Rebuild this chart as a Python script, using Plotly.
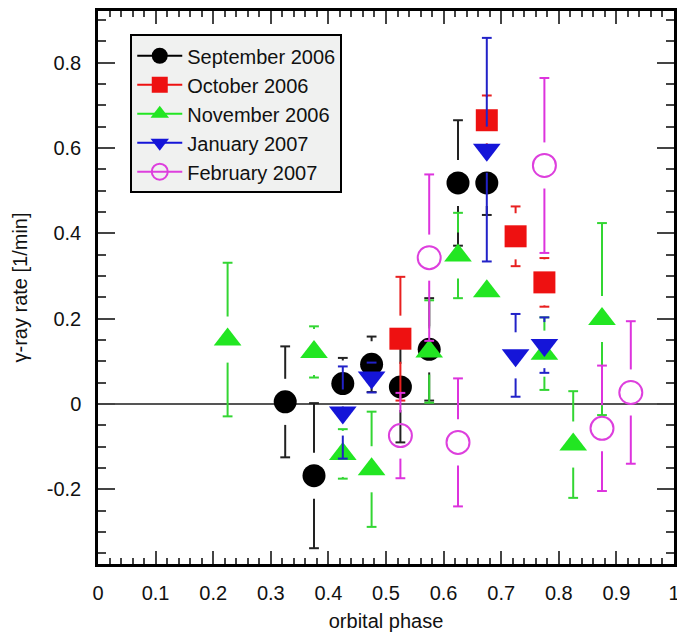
import plotly.graph_objects as go

# ---------------- data ----------------
sep_phase = [0.325, 0.375, 0.425, 0.475, 0.525, 0.575, 0.625, 0.675]
sep_rate = [0.005, -0.168, 0.048, 0.093, 0.040, 0.128, 0.518, 0.518]
sep_err = [0.13, 0.17, 0.06, 0.065, 0.13, 0.12, 0.147, 0.075]

oct_phase = [0.525, 0.675, 0.725, 0.775]
oct_rate = [0.153, 0.665, 0.393, 0.285]
oct_err = [0.145, 0.058, 0.07, 0.057]

nov_phase = [0.225, 0.375, 0.425, 0.475, 0.575, 0.625, 0.675, 0.775, 0.825, 0.875]
nov_rate = [0.151, 0.122, -0.117, -0.153, 0.123, 0.348, 0.264, 0.118, -0.095, 0.199]
nov_err = [0.18, 0.06, 0.058, 0.135, 0.12, 0.1, None, 0.085, 0.125, 0.225]

jan_phase = [0.425, 0.475, 0.675, 0.725, 0.775]
jan_rate = [-0.02, 0.062, 0.596, 0.114, 0.138]
jan_err = [0.108, 0.035, 0.262, 0.097, 0.065]

feb_phase = [0.525, 0.575, 0.625, 0.775, 0.875, 0.925]
feb_rate = [-0.074, 0.343, -0.09, 0.559, -0.057, 0.027]
feb_err = [0.10, 0.195, 0.15, 0.205, 0.147, 0.167]

x_ticks = [0, 0.1, 0.2, 0.3, 0.4, 0.5, 0.6, 0.7, 0.8, 0.9, 1]
x_ticktext = ["0", "0.1", "0.2", "0.3", "0.4", "0.5", "0.6", "0.7", "0.8", "0.9", "1"]
y_ticks = [-0.2, 0, 0.2, 0.4, 0.6, 0.8]
y_ticktext = ["-0.2", "0", "0.2", "0.4", "0.6", "0.8"]

FONT = "Liberation Sans, Arial, Helvetica, sans-serif"
GAP = 0.054  # error bar gap around the marker, in data units

series = [
    dict(name="September 2006", x=sep_phase, y=sep_rate, e=sep_err,
         color="#000000", bar="#222222", symbol="circle", size=23, fill="#000000", lw=0),
    dict(name="October 2006", x=oct_phase, y=oct_rate, e=oct_err,
         color="#ee1111", bar="#e82020", symbol="square", size=22, fill="#ee1111", lw=0),
    dict(name="November 2006", x=nov_phase, y=nov_rate, e=nov_err,
         color="#22e622", bar="#33d633", symbol="triangle-up", size=24, fill="#22e622", lw=0),
    dict(name="January 2007", x=jan_phase, y=jan_rate, e=jan_err,
         color="#1515d8", bar="#2222c8", symbol="triangle-down", size=24, fill="#1515d8", lw=0),
    dict(name="February 2007", x=feb_phase, y=feb_rate, e=feb_err,
         color="#dd3fdd", bar="#dd33dd", symbol="circle-open", size=23, fill="#dd3fdd", lw=2),
]


def bars(x, y, e):
    bx, by, cx, cy = [], [], [], []
    for xi, yi, ei in zip(x, y, e):
        if ei is None:
            continue
        for s in (1, -1):
            if ei > GAP:
                bx += [xi, xi, None]
                by += [yi + s * GAP, yi + s * ei, None]
            cx.append(xi)
            cy.append(yi + s * ei)
    return bx, by, cx, cy


fig = go.Figure()

for s in series:
    bx, by, cx, cy = bars(s["x"], s["y"], s["e"])
    fig.add_trace(go.Scatter(x=bx, y=by, mode="lines", connectgaps=False,
                             line=dict(color=s["bar"], width=2),
                             showlegend=False, hoverinfo="skip"))
    fig.add_trace(go.Scatter(x=cx, y=cy, mode="markers",
                             marker=dict(symbol="line-ew", size=7,
                                         line=dict(color=s["bar"], width=2)),
                             showlegend=False, hoverinfo="skip"))
    fig.add_trace(go.Scatter(x=s["x"], y=s["y"], mode="markers", name=s["name"],
                             marker=dict(symbol=s["symbol"], size=s["size"], color=s["fill"],
                                         line=dict(color=s["color"], width=s["lw"])),
                             showlegend=False))

for s in series:
    fig.add_trace(go.Scatter(x=[None], y=[None], mode="lines+markers", name=s["name"],
                             line=dict(color=s["color"], width=2),
                             marker=dict(symbol=s["symbol"], size=s["size"], color=s["fill"],
                                         line=dict(color=s["color"], width=s["lw"]))))

axis_common = dict(
    showgrid=False, showline=True, linecolor="#000000", linewidth=2.5,
    mirror="allticks", ticks="inside", tickcolor="#444444", tickwidth=1.5,
    tickfont=dict(family=FONT, size=20, color="#111111"), automargin=False,
    ticklabeloverflow="allow",
)

fig.update_layout(
    width=677, height=634,
    margin=dict(l=98, r=3, t=11, b=70),
    paper_bgcolor="#ffffff", plot_bgcolor="#ffffff",
    font=dict(family=FONT, size=20, color="#111111"),
    xaxis=dict(range=[0, 1], tickmode="array", tickvals=x_ticks, ticktext=x_ticktext,
               ticklen=13, zeroline=False, ticklabelstandoff=9,
               minor=dict(dtick=0.02, tick0=0, ticklen=6, ticks="inside",
                          tickcolor="#444444", tickwidth=1.5, showgrid=False),
               title=dict(text="orbital phase", font=dict(family=FONT, size=20), standoff=12),
               **axis_common),
    yaxis=dict(range=[-0.375, 0.921], tickmode="array", tickvals=y_ticks, ticktext=y_ticktext,
               ticklen=17, zeroline=True, zerolinecolor="#555555", zerolinewidth=1.5,
               ticklabelstandoff=10,
               minor=dict(dtick=0.05, tick0=0, ticklen=8, ticks="inside",
                          tickcolor="#444444", tickwidth=1.5, showgrid=False),
               title=dict(text="γ-ray rate [1/min]", font=dict(family=FONT, size=20), standoff=14),
               **axis_common),
    legend=dict(x=0.056, y=0.958, xanchor="left", yanchor="top",
                bgcolor="#f0f1f0", bordercolor="#000000", borderwidth=2,
                font=dict(family=FONT, size=20, color="#111111"),
                itemsizing="trace", itemwidth=45, tracegroupgap=0),
)

fig.write_html("out.html")
